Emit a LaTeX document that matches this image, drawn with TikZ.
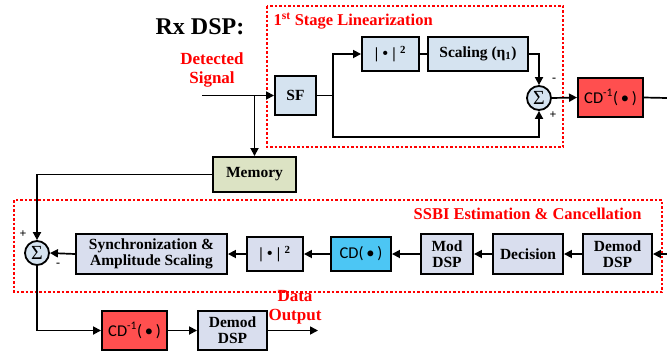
\documentclass[tikz,border=0pt]{standalone}
\usepackage{fontspec}
\setmainfont{Liberation Serif}
\newfontfamily\cdfont{Carlito}
\usetikzlibrary{arrows.meta,calc}
\definecolor{lblue}{HTML}{D5E3F0}
\definecolor{lgray}{HTML}{D9DEEE}
\definecolor{lgreen}{HTML}{DCE3C4}
\definecolor{rbox}{HTML}{FF4F4F}
\definecolor{cbox}{HTML}{4CC6F4}
\definecolor{rtext}{HTML}{FF0000}
\tikzset{
  blk/.style={draw=black, line width=1.9pt, inner sep=0pt, align=center, font=\bfseries\fontsize{15.5}{16}\selectfont},
  sumnode/.style={draw=black, circle, line width=1.8pt, fill=lblue, minimum size=24pt, inner sep=0pt, font=\fontsize{20}{20}\selectfont},
  con/.style={line width=1.7pt, draw=black},
  arr/.style={con, -{Triangle[length=8pt,width=8pt]}},
  redbox/.style={draw=rtext, line width=1.7pt, dash pattern=on 2.5pt off 2pt},
  redlbl/.style={text=rtext, font=\bfseries\fontsize{16.5}{19}\selectfont, align=center},
  sgn/.style={font=\bfseries\fontsize{12}{12}\selectfont},
  cdtxt/.style={font=\cdfont\fontsize{16.5}{16.5}\selectfont}
}
\begin{document}
\begin{tikzpicture}[x=1pt,y=-1pt]
\useasboundingbox (0,0) rectangle (667,360);
% dotted regions
\draw[redbox] (267,6) rectangle (563,147);
\draw[redbox] (14,200) rectangle (662,292);
% titles
\node[font=\bfseries\fontsize{24}{24}\selectfont] (title) at (200,27) {Rx DSP:};
\node[redlbl, anchor=west] (stage) at (270,21) {1\textsuperscript{st} Stage Linearization};
\node[redlbl, anchor=east] (ssbi) at (645,214) {SSBI Estimation \& Cancellation};
\node[redlbl, font=\bfseries\fontsize{17}{19}\selectfont] (det) at (212,70) {Detected\\Signal};
\node[redlbl, font=\bfseries\fontsize{17}{19}\selectfont] (dout) at (295,307) {Data\\Output};
% upper chain
\node[blk, fill=lblue, minimum width=41pt, minimum height=39pt] (sf) at (295.5,95.5) {SF};
\node[blk, fill=lblue, minimum width=57pt, minimum height=34pt] (abs1) at (390.5,54) {|\;\textbullet\;|\;\textsuperscript{2}};
\node[blk, fill=lblue, minimum width=100pt, minimum height=34pt] (scal) at (478,54) {Scaling (η\textsubscript{1})};
\node[sumnode] (sum1) at (539,98) {Σ};
\node[blk, fill=rbox, minimum width=65pt, minimum height=39pt, cdtxt] (cdi1) at (610.5,97.5) {CD\textsuperscript{-1}(\,\textbullet\,)};
\node[blk, fill=lgreen, minimum width=83pt, minimum height=35pt] (mem) at (254.5,174.5) {Memory};
\node[sgn] (m1) at (554,80) {-};
\node[sgn] (p1) at (553,115) {+};
% lower chain
\node[sumnode] (sum2) at (37,253) {Σ};
\node[sgn] (p2) at (23,234) {+};
\node[sgn] (m2) at (58,265) {-};
\node[blk, fill=lgray, minimum width=151pt, minimum height=40pt] (sync) at (151.5,254) {Synchronization \&\\Amplitude Scaling};
\node[blk, fill=lgray, minimum width=56pt, minimum height=34pt] (abs2) at (275,254) {|\;\textbullet\;|\;\textsuperscript{2}};
\node[blk, fill=cbox, minimum width=60pt, minimum height=34pt, cdtxt] (cd) at (361,254) {CD(\,\textbullet\,)};
\node[blk, fill=lgray, minimum width=52pt, minimum height=40pt] (mod) at (447,254) {Mod\\DSP};
\node[blk, fill=lgray, minimum width=70pt, minimum height=40pt] (dec) at (528,254) {Decision};
\node[blk, fill=lgray, minimum width=69pt, minimum height=40pt] (demod) at (617.5,254) {Demod\\DSP};
\node[blk, fill=rbox, minimum width=65pt, minimum height=39pt, cdtxt] (cdi2) at (134.5,330.5) {CD\textsuperscript{-1}(\,\textbullet\,)};
\node[blk, fill=lgray, minimum width=69pt, minimum height=39pt] (demod2) at (232.5,330.5) {Demod\\DSP};
% coordinates
\coordinate (in) at (202,95.5);
\coordinate (br) at (254.5,95.5);
\coordinate (split) at (333,95.5);
\coordinate (bot) at (333,137);
\coordinate (outr) at (667,98);
\coordinate (inr) at (667,254);
\coordinate (dend) at (318,330.5);
% connectors
\draw[arr] (in) -- (sf.west);
\draw[arr] (br) -- (mem.north);
\draw[con] (sf.east) -- (split);
\draw[arr] (split) |- (abs1.west);
\draw[arr] (split) -- (bot) -| (sum1.south);
\draw[con] (abs1.east) -- (scal.west);
\draw[arr] (scal.east) -| (sum1.north);
\draw[arr] (sum1.east) -- (cdi1.west);
\draw[con] (cdi1.east) -- (outr);
\draw[arr] (mem.west) -| (sum2.north);
\draw[arr] (inr) -- (demod.east);
\draw[arr] (demod.west) -- (dec.east);
\draw[arr] (dec.west) -- (mod.east);
\draw[arr] (mod.west) -- (cd.east);
\draw[arr] (cd.west) -- (abs2.east);
\draw[arr] (abs2.west) -- (sync.east);
\draw[arr] (sync.west) -- (sum2.east);
\draw[arr] (sum2.south) |- (cdi2.west);
\draw[arr] (cdi2.east) -- (demod2.west);
\draw[arr] (demod2.east) -- (dend);
\end{tikzpicture}
\end{document}
